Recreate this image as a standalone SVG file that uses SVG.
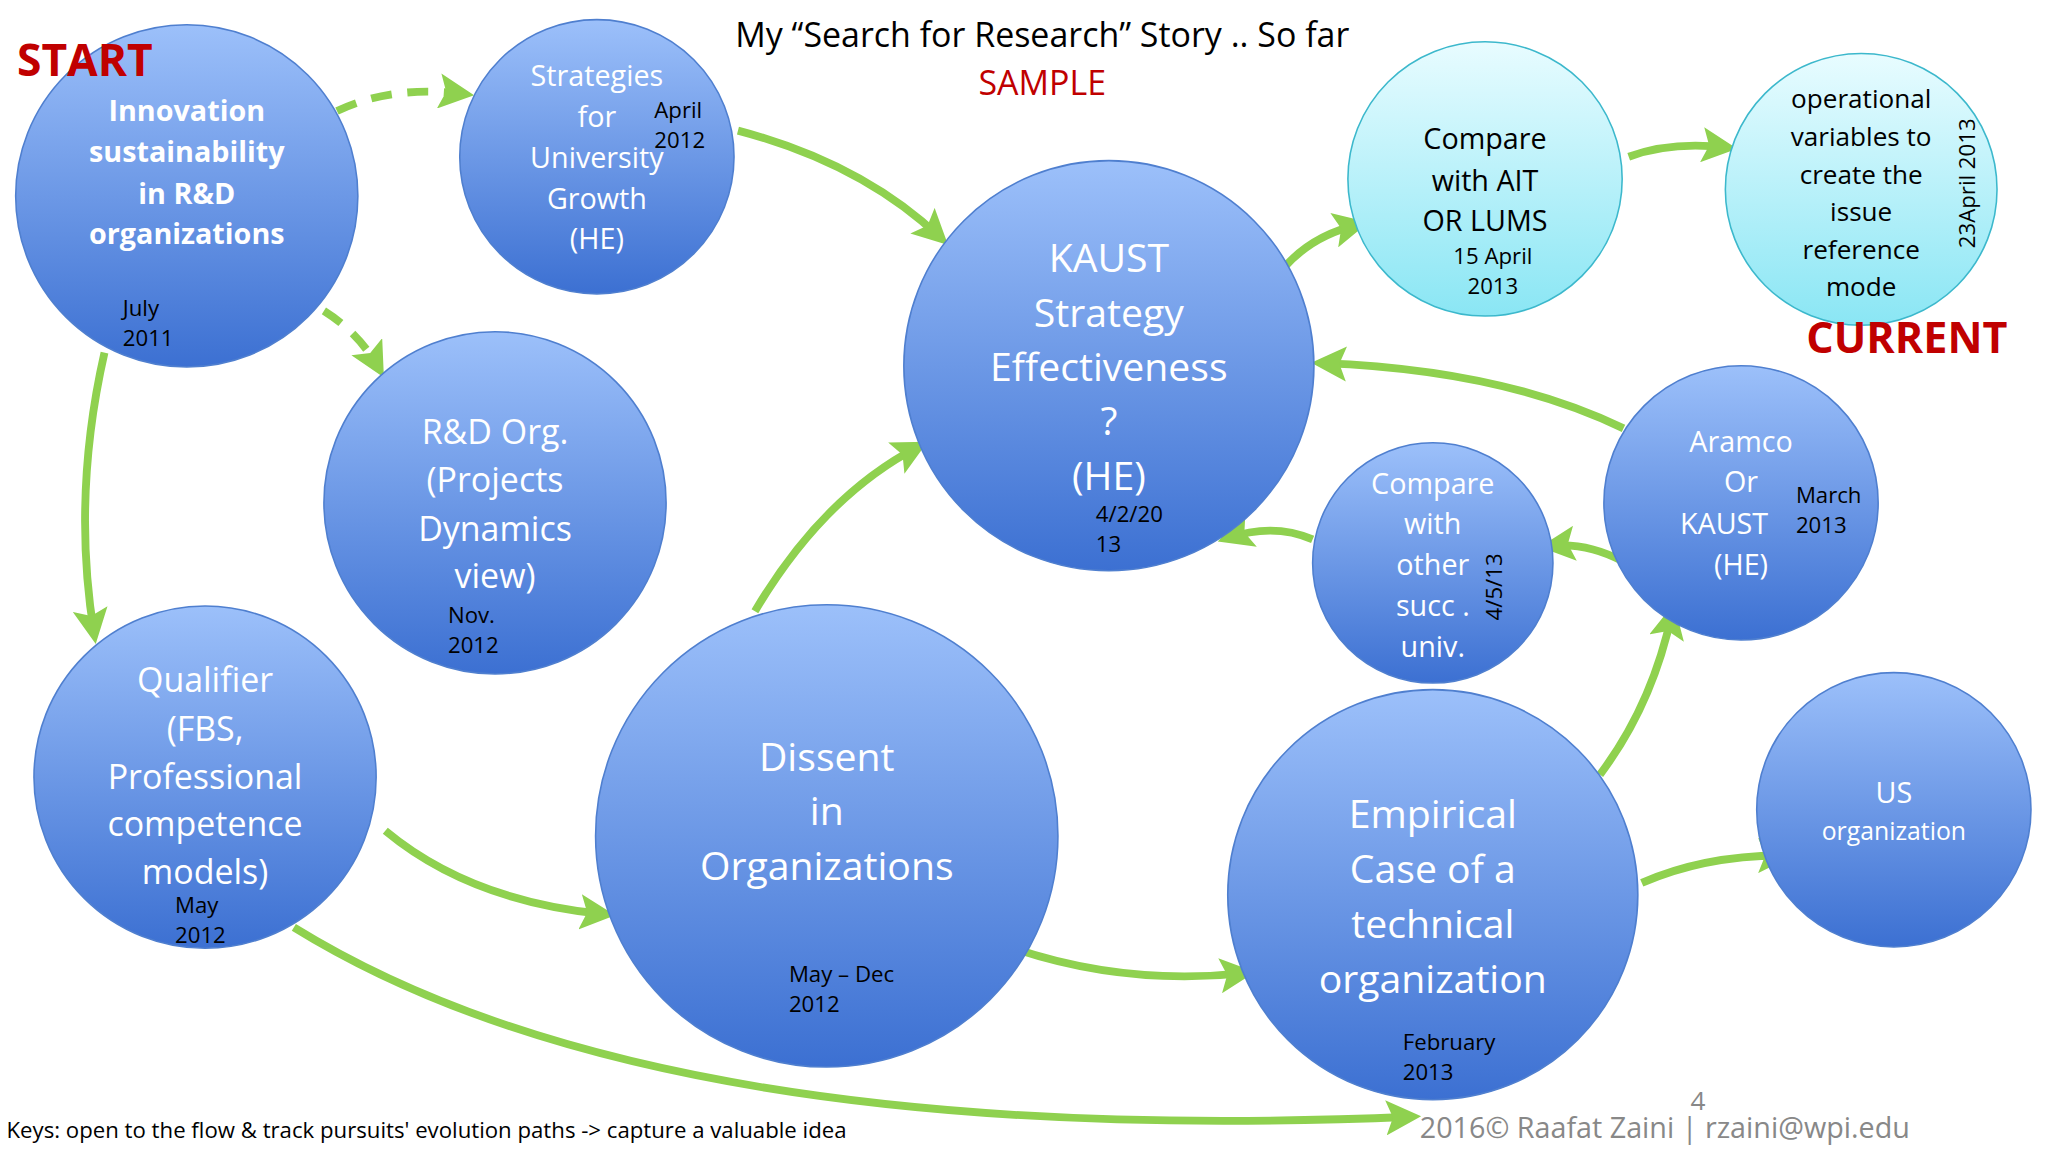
<svg xmlns="http://www.w3.org/2000/svg" width="2048" height="1152" viewBox="0 0 2048 1152">
<style>
.n{stroke:#4f7fcf;stroke-width:1.2}
.w{fill:#fff;font-family:"Open Sans","Noto Sans",sans-serif;text-anchor:middle}
.b{fill:#000;font-family:"Open Sans","Noto Sans",sans-serif;font-size:17px}
.bc{fill:#000;font-family:"Open Sans","Noto Sans",sans-serif;text-anchor:middle}
.a{fill:none;stroke:#8fd14f;stroke-width:6;marker-end:url(#ah)}
.d{stroke-dasharray:16 12}
</style>
<defs>
<linearGradient id="g" x1="0" y1="0" x2="0" y2="1"><stop offset="0" stop-color="#9cc0fa"/><stop offset="1" stop-color="#3c70d2"/></linearGradient>
<linearGradient id="c" x1="0" y1="0" x2="0" y2="1"><stop offset="0" stop-color="#e8fcff"/><stop offset="1" stop-color="#8ae6f4"/></linearGradient>
<marker id="ah" viewBox="0 0 10 10" refX="7" refY="5" markerWidth="4.5" markerHeight="4.5" orient="auto" markerUnits="strokeWidth"><path d="M0,0L10,5L0,10L2,5Z" fill="#8fd14f"/></marker>
</defs>
<rect width="2048" height="1152" fill="#fff"/>
<g transform="scale(1.3061)">
<text x="798" y="36" font-family="Open Sans,Noto Sans,sans-serif" font-size="26" text-anchor="middle">My “Search for Research” Story .. So far</text>
<text x="798" y="73" font-family="Open Sans,Noto Sans,sans-serif" font-size="26" text-anchor="middle" fill="#c00000">SAMPLE</text>

<g id="connectors">
<path class="a d" d="M258,85 Q300,65 355,72"/>
<path class="a d" d="M248,238 Q275,255 290,282"/>
<path class="a" d="M80,270 Q55,380 72,485"/>
<path class="a" d="M565,100 Q660,125 720,182"/>
<path class="a" d="M983,205 Q1005,180 1040,172"/>
<path class="a" d="M1247,120 Q1280,108 1322,113"/>
<path class="a" d="M1243,328 Q1150,283 1012,278"/>
<path class="a" d="M1005,413 Q975,400 940,412"/>
<path class="a" d="M1243,430 Q1215,415 1187,418"/>
<path class="a" d="M578,468 Q630,380 703,342"/>
<path class="a" d="M295,636 Q360,690 463,700"/>
<path class="a" d="M773,725 Q860,755 953,745"/>
<path class="a" d="M1225,593 Q1265,540 1280,470"/>
<path class="a" d="M1257,676 Q1305,655 1365,655"/>
<path class="a" d="M225,710 Q500,880 1080,855"/>
</g>

<g id="n1"><circle class="n" cx="143" cy="150" r="131" fill="url(#g)"/>
<text class="w" font-size="22" font-weight="bold"><tspan x="143" y="93">Innovation</tspan><tspan x="143" y="124">sustainability</tspan><tspan x="143" y="156">in R&amp;D</tspan><tspan x="143" y="187">organizations</tspan></text>
<text class="b"><tspan x="94" y="242">July</tspan><tspan x="94" y="265">2011</tspan></text></g>

<g id="n2"><circle class="n" cx="457" cy="120" r="105" fill="url(#g)"/>
<text class="w" font-size="22"><tspan x="457" y="66">Strategies</tspan><tspan x="457" y="97">for</tspan><tspan x="457" y="129">University</tspan><tspan x="457" y="160">Growth</tspan><tspan x="457" y="191">(HE)</tspan></text>
<text class="b"><tspan x="501" y="90">April</tspan><tspan x="501" y="113">2012</tspan></text></g>

<g id="n3"><circle class="n" cx="379" cy="385" r="131" fill="url(#g)"/>
<text class="w" font-size="26"><tspan x="379" y="340">R&amp;D Org.</tspan><tspan x="379" y="377">(Projects</tspan><tspan x="379" y="414">Dynamics</tspan><tspan x="379" y="450">view)</tspan></text>
<text class="b"><tspan x="343" y="477">Nov.</tspan><tspan x="343" y="500">2012</tspan></text></g>

<g id="n4"><circle class="n" cx="849" cy="280" r="157" fill="url(#g)"/>
<text class="w" font-size="30"><tspan x="849" y="208">KAUST</tspan><tspan x="849" y="250">Strategy</tspan><tspan x="849" y="292">Effectiveness</tspan><tspan x="849" y="333">?</tspan><tspan x="849" y="375">(HE)</tspan></text>
<text class="b"><tspan x="839" y="400">4/2/20</tspan><tspan x="839" y="423">13</tspan></text></g>

<g id="n5"><circle cx="1137" cy="137" r="105" fill="url(#c)" stroke="#3cb8cc" stroke-width="1.2"/>
<text class="bc" font-size="22"><tspan x="1137" y="114">Compare</tspan><tspan x="1137" y="146">with AIT</tspan><tspan x="1137" y="177">OR LUMS</tspan></text>
<text class="bc" font-size="17"><tspan x="1143" y="202">15 April</tspan><tspan x="1143" y="225">2013</tspan></text></g>

<g id="n6"><circle cx="1425" cy="145" r="104" fill="url(#c)" stroke="#3cb8cc" stroke-width="1.2"/>
<text class="bc" font-size="20"><tspan x="1425" y="83">operational</tspan><tspan x="1425" y="112">variables to</tspan><tspan x="1425" y="141">create the</tspan><tspan x="1425" y="169">issue</tspan><tspan x="1425" y="198">reference</tspan><tspan x="1425" y="227">mode</tspan></text>
<text class="b" transform="translate(1512,190) rotate(-90)">23April 2013</text></g>

<g id="n7"><circle class="n" cx="1333" cy="385" r="105" fill="url(#g)"/>
<text class="w" font-size="22"><tspan x="1333" y="346">Aramco</tspan><tspan x="1333" y="377">Or</tspan><tspan x="1320" y="409">KAUST</tspan><tspan x="1333" y="440">(HE)</tspan></text>
<text class="b"><tspan x="1375" y="385">March</tspan><tspan x="1375" y="408">2013</tspan></text></g>

<g id="n8"><circle class="n" cx="1097" cy="431" r="92" fill="url(#g)"/>
<text class="w" font-size="22"><tspan x="1097" y="378">Compare</tspan><tspan x="1097" y="409">with</tspan><tspan x="1097" y="440">other</tspan><tspan x="1097" y="472">succ .</tspan><tspan x="1097" y="503">univ.</tspan></text>
<text class="b" transform="translate(1150,475) rotate(-90)">4/5/13</text></g>

<g id="n9"><circle class="n" cx="157" cy="595" r="131" fill="url(#g)"/>
<text class="w" font-size="26"><tspan x="157" y="530">Qualifier</tspan><tspan x="157" y="567">(FBS,</tspan><tspan x="157" y="604">Professional</tspan><tspan x="157" y="640">competence</tspan><tspan x="157" y="677">models)</tspan></text>
<text class="b"><tspan x="134" y="699">May</tspan><tspan x="134" y="722">2012</tspan></text></g>

<g id="n10"><circle class="n" cx="633" cy="640" r="177" fill="url(#g)"/>
<text class="w" font-size="30"><tspan x="633" y="590">Dissent</tspan><tspan x="633" y="632">in</tspan><tspan x="633" y="674">Organizations</tspan></text>
<text class="b"><tspan x="604" y="752">May – Dec</tspan><tspan x="604" y="775">2012</tspan></text></g>

<g id="n11"><circle class="n" cx="1097" cy="685" r="157" fill="url(#g)"/>
<text class="w" font-size="30"><tspan x="1097" y="634">Empirical</tspan><tspan x="1097" y="676">Case of a</tspan><tspan x="1097" y="718">technical</tspan><tspan x="1097" y="760">organization</tspan></text>
<text class="b"><tspan x="1074" y="804">February</tspan><tspan x="1074" y="827">2013</tspan></text></g>

<g id="n12"><circle class="n" cx="1450" cy="620" r="105" fill="url(#g)"/>
<text class="w"><tspan x="1450" y="615" font-size="22">US</tspan><tspan x="1450" y="643" font-size="19">organization</tspan></text></g>

<text x="13" y="58" font-family="Open Sans,Noto Sans,sans-serif" font-size="34" font-weight="bold" fill="#c00000">START</text>
<text x="1383" y="270" font-family="Open Sans,Noto Sans,sans-serif" font-size="33" font-weight="bold" fill="#c00000">CURRENT</text>
<text x="5" y="871" font-family="Open Sans,Noto Sans,sans-serif" font-size="17">Keys: open to the flow &amp; track pursuits' evolution paths -&gt; capture a valuable idea</text>
<text x="1087" y="871" font-family="Open Sans,Noto Sans,sans-serif" font-size="22" fill="#888">2016© Raafat Zaini | rzaini@wpi.edu</text>
<text x="1300" y="850" font-family="Open Sans,Noto Sans,sans-serif" font-size="20" fill="#888" text-anchor="middle">4</text>
</g>
</svg>
